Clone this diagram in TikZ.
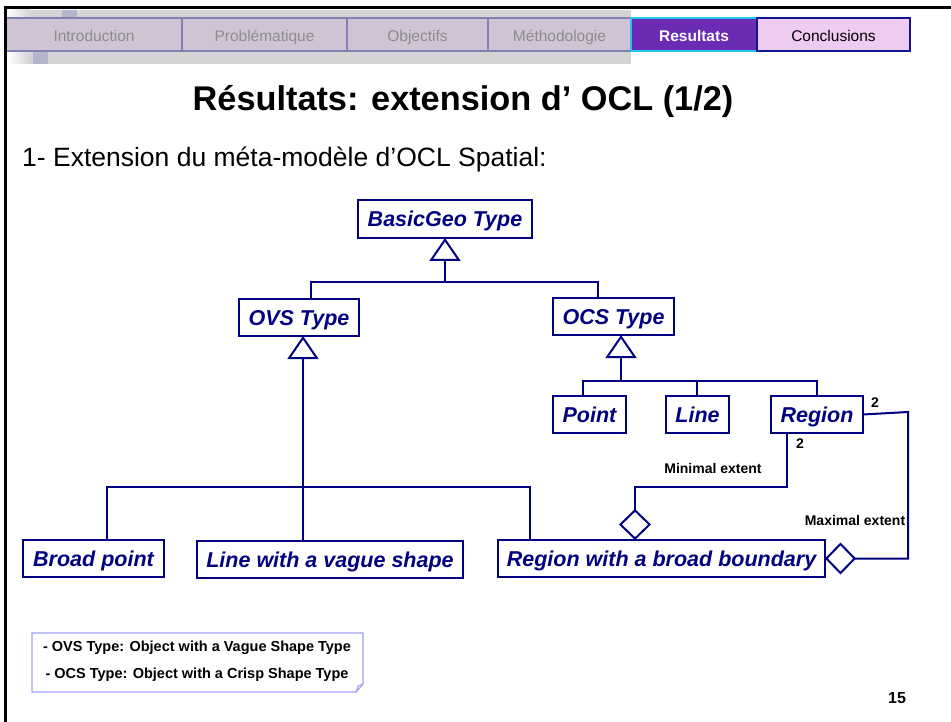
\documentclass[tikz,border=0pt]{standalone}
\usepackage{fontspec}
\setmainfont{Liberation Sans}
\usetikzlibrary{arrows.meta,calc}
\definecolor{navy}{RGB}{0,0,128}
\definecolor{bandgray}{RGB}{212,212,212}
\definecolor{sqcol}{RGB}{180,180,204}
\definecolor{tabfill}{RGB}{208,196,212}
\definecolor{tabline}{RGB}{128,128,178}
\definecolor{tabtext}{RGB}{140,140,140}
\definecolor{resfill}{RGB}{107,43,181}
\definecolor{resline}{RGB}{30,200,245}
\definecolor{concfill}{RGB}{238,203,240}
\definecolor{concline}{RGB}{20,20,140}
\definecolor{notecol}{RGB}{160,160,240}
\tikzset{
  tab/.style={draw=tabline, fill=tabfill, line width=2, inner sep=0, outer sep=0,
    minimum height=33, text=tabtext, font=\fontsize{15.5}{18}\selectfont,
    text height=13.5, text depth=0},
  umlbox/.style={draw=navy, fill=white, line width=2, inner sep=0, outer sep=0,
    minimum height=37, text=navy, font=\fontsize{21.5}{24}\selectfont\bfseries\itshape,
    text height=18, text depth=2},
  conn/.style={draw=navy, line width=2},
  gen/.style={conn, -{Triangle[open, length=23, width=31, line width=2]}},
  agg/.style={conn, -{Diamond[open, length=31, width=32, line width=2]}},
  lbl/.style={font=\fontsize{14}{16}\selectfont\bfseries, inner sep=0},
}
\begin{document}
\begin{tikzpicture}[x=1pt, y=-1pt]
\useasboundingbox (0,0) rectangle (951,722);
\fill[white] (0,0) rectangle (951,722);

% tab band
\fill[bandgray] (7,10) rectangle (631,64);
\fill[left color=white, right color=bandgray] (7,10) rectangle (30,64);
\fill[sqcol] (62,10) rectangle (77,18);
\fill[sqcol] (33,51) rectangle (48,64);

\node[tab, minimum width=176] (tintro) at (94,34.5) {Introduction};
\node[tab, minimum width=165] (tprob) at (264.5,34.5) {Problématique};
\node[tab, minimum width=141] (tobj) at (417.5,34.5) {Objectifs};
\node[tab, minimum width=143] (tmeth) at (559.5,34.5) {Méthodologie};
\node[tab, minimum width=126, fill=resfill, draw=resline, text=white,
  font=\fontsize{15.5}{18}\selectfont\bfseries] (tres) at (694,34.5) {Resultats};
\node[tab, minimum width=153, fill=concfill, draw=concline, text=black] (tconc) at (833.5,34.5) {Conclusions};

% frame
\draw[line width=3] (951,8) -- (5.5,8) -- (5.5,722);

% title
\node[font=\fontsize{34.3}{38}\selectfont\bfseries, inner sep=0] (title) at (463,101) {Résultats: extension d’ OCL (1/2)};
\node[anchor=west, inner sep=0, font=\fontsize{26.5}{30}\selectfont] (sub) at (22,159) {1- Extension du méta-modèle d’OCL Spatial:};

% boxes
\node[umlbox, minimum width=174, minimum height=38] (basic) at (445,219) {BasicGeo Type};
\node[umlbox, minimum width=120] (ovs) at (299,317.5) {OVS Type};
\node[umlbox, minimum width=121] (ocs) at (613.5,316.5) {OCS Type};
\node[umlbox, minimum width=73] (point) at (589.5,414.5) {Point};
\node[umlbox, minimum width=63] (line) at (697.5,414.5) {Line};
\node[umlbox, minimum width=92] (region) at (817,414.5) {Region};
\node[umlbox, minimum width=141] (broad) at (93.5,558.5) {Broad point};
\node[umlbox, minimum width=266] (lvs) at (330,559) {Line with a vague shape};
\node[umlbox, minimum width=327] (rbb) at (661.5,558.5) {Region with a broad boundary};

% junction coordinates
\coordinate (j0) at (445,282);
\coordinate (j1) at (303,487);
\coordinate (j2) at (621,381);
\coordinate (m1) at (635,487);
\coordinate (m2) at (908,412);

% BasicGeo generalisation
\draw[conn] (ovs.north -| 311,0) |- (j0) -| (ocs.north -| 598,0);
\draw[gen] (j0) -- (basic.south);
% OVS generalisation
\draw[conn] (broad.north -| 107,0) |- (j1) -| (rbb.north -| 530,0);
\draw[gen] (lvs.north -| j1) -- (ovs.south -| j1);
% OCS generalisation
\draw[conn] (point.north -| 583,0) |- (j2) -| (region.north);
\draw[conn] (line.north -| 697,0) -- (j2 -| 697,0);
\draw[gen] (j2) -- (ocs.south -| j2);

% aggregations
\draw[agg] (region.south -| 787,0) |- (m1) -- (rbb.north -| m1);
\draw[agg] (region.east) -- (m2) |- (rbb.east);

\node[lbl] (mult1) at (800,444) {2};
\node[lbl] (mult2) at (875,403) {2};
\node[lbl] (minl) at (713,468) {Minimal extent};
\node[lbl] (maxl) at (855,520) {Maximal extent};

% note
\draw[notecol, line width=1.2, fill=white] (32,633) -- (363,633) -- (363,684) -- (356,692) -- (32,692) -- cycle;
\draw[notecol, line width=1] (356,692) -- (358,686) -- (363,684);
\node[align=center, font=\fontsize{14.5}{27}\selectfont\bfseries] (note) at (197,661)
  {- OVS Type: Object with a Vague Shape Type\\- OCS Type: Object with a Crisp Shape Type};

\node[font=\fontsize{16}{18}\selectfont\bfseries] (page) at (897,698) {15};
\end{tikzpicture}
\end{document}
